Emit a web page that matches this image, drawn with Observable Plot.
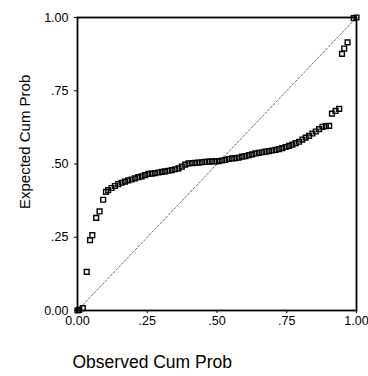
<!DOCTYPE html>
<html>
<head>
<meta charset="utf-8">
<script src="https://cdn.jsdelivr.net/npm/d3@7"></script>
<script src="https://cdn.jsdelivr.net/npm/@observablehq/plot@0.6"></script>
<style>
  html, body { margin: 0; padding: 0; background: white; }
  #chart { width: 368px; height: 376px; overflow: hidden; }
</style>
</head>
<body>
<div id="chart"></div>
<script>
// Observed cumulative probability (x) and expected cumulative probability (y)
const observed = [
  0.000, 0.006, 0.019, 0.033, 0.045, 0.053, 0.067, 0.079, 0.092, 0.102,
  0.110, 0.122, 0.134, 0.146, 0.158, 0.170, 0.182, 0.194, 0.206, 0.218,
  0.230, 0.242, 0.254, 0.266, 0.278, 0.290, 0.302, 0.314, 0.326, 0.338,
  0.350, 0.362, 0.374, 0.386, 0.398, 0.410, 0.422, 0.434, 0.446, 0.458,
  0.470, 0.482, 0.494, 0.506, 0.518, 0.530, 0.542, 0.554, 0.566, 0.578,
  0.590, 0.602, 0.614, 0.626, 0.638, 0.650, 0.662, 0.674, 0.686, 0.698,
  0.710, 0.722, 0.734, 0.746, 0.758, 0.770, 0.782, 0.794, 0.806, 0.818,
  0.830, 0.842, 0.854, 0.866, 0.878, 0.890, 0.902, 0.912, 0.925, 0.938,
  0.948, 0.956, 0.968, 0.990, 1.000
];
const expected = [
  0.000, 0.002, 0.008, 0.132, 0.240, 0.257, 0.316, 0.338, 0.378, 0.405,
  0.411, 0.418, 0.425, 0.431, 0.436, 0.440, 0.444, 0.447, 0.451, 0.455,
  0.458, 0.462, 0.466, 0.467, 0.469, 0.471, 0.473, 0.475, 0.477, 0.479,
  0.482, 0.485, 0.491, 0.498, 0.502, 0.503, 0.504, 0.505, 0.506, 0.507,
  0.508, 0.509, 0.509, 0.510, 0.512, 0.514, 0.517, 0.519, 0.520, 0.522,
  0.525, 0.527, 0.530, 0.533, 0.536, 0.538, 0.540, 0.542, 0.544, 0.546,
  0.548, 0.551, 0.554, 0.558, 0.562, 0.566, 0.571, 0.576, 0.583, 0.590,
  0.596, 0.604, 0.611, 0.619, 0.627, 0.629, 0.630, 0.672, 0.681, 0.688,
  0.876, 0.894, 0.915, 0.998, 1.000
];
// Reference (diagonal) line endpoints
const referenceLine = [0, 1];
// Tick values and labels
const tickValues = [0, 0.25, 0.5, 0.75, 1];
const tickLabels = ["0.00", ".25", ".50", ".75", "1.00"];
const xTitle = "Observed Cum Prob";
const yTitle = "Expected Cum Prob";

const points = observed.map((o, i) => ({observed: o, expected: expected[i]}));
const refData = referenceLine.map(v => ({a: v, b: v}));
const fmt = d => tickLabels[tickValues.indexOf(d)];

const chart = Plot.plot({
  width: 368,
  height: 376,
  marginLeft: 77,
  marginRight: 12,
  marginTop: 17,
  marginBottom: 66,
  style: {fontFamily: "'Liberation Sans', Arial, sans-serif", fontSize: "12.5px", background: "white", color: "black"},
  x: {domain: [0, 1], ticks: tickValues, tickFormat: fmt, tickSize: 3, tickPadding: 3, label: null},
  y: {domain: [0, 1], ticks: tickValues, tickFormat: fmt, tickSize: 3, tickPadding: 6, label: null},
  marks: [
    Plot.line(refData, {x: "a", y: "b", stroke: "#444", strokeWidth: 0.8, strokeDasharray: "2,2"}),
    Plot.dot(points, {x: "observed", y: "expected", symbol: "square", r: 2.7, stroke: "black", fill: "none", strokeWidth: 1.4}),
    Plot.frame({stroke: "black", strokeWidth: 1.8}),
    Plot.text([xTitle], {frameAnchor: "bottom-left", text: d => d, textAnchor: "start", dx: -5, dy: 57, fontSize: 17.5}),
    Plot.text([yTitle], {frameAnchor: "left", text: d => d, rotate: -90, dx: -52, dy: 45, fontSize: 15})
  ]
});
document.getElementById("chart").appendChild(chart);
</script>
</body>
</html>
